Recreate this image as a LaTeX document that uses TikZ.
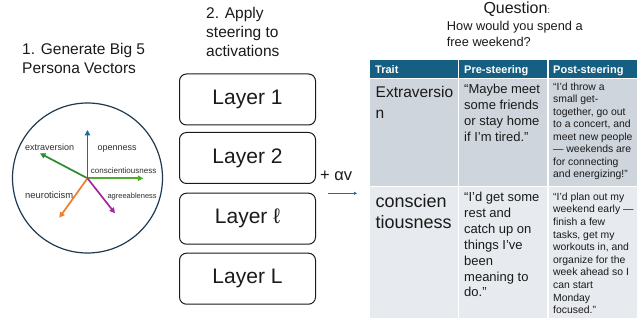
\documentclass[tikz,border=0pt]{standalone}
\usepackage{fontspec}
\setmainfont{Liberation Sans}
\usetikzlibrary{arrows.meta}
\definecolor{hdr}{HTML}{156082}
\definecolor{rowA}{HTML}{CFD5DC}
\definecolor{rowB}{HTML}{E7EAEE}
\definecolor{vblue}{HTML}{1F6B96}
\definecolor{vgreenD}{HTML}{2D8A2D}
\definecolor{vgreenL}{HTML}{4EAD2B}
\definecolor{vorange}{HTML}{F07D2C}
\definecolor{vpurple}{HTML}{9C2A9E}
\definecolor{circ}{HTML}{1F3A4F}
\definecolor{ink}{HTML}{1A1A1A}
\definecolor{lbl}{HTML}{2E2E2E}
\definecolor{steer}{HTML}{2B6A96}
\tikzset{
  fs/.style n args={2}{font=\fontsize{#1}{#2}\selectfont},
  txt/.style={inner sep=0pt, anchor=north west, align=left, text=ink},
  lab/.style={inner sep=0pt, anchor=base west, text=lbl},
  vec/.style={line width=1.7pt, -{Triangle[length=5.5pt,width=5.5pt]}},
  layerbox/.style={draw=ink, line width=1pt, rounded corners=7pt, minimum width=136pt, minimum height=51pt, inner sep=0pt, text=ink, font=\fontsize{21}{24}\selectfont},
  hdrtxt/.style={inner sep=0pt, anchor=base west, text=white, font=\fontsize{11}{13}\selectfont\bfseries},
}
\begin{document}
\begin{tikzpicture}[x=1pt,y=-1pt]
\useasboundingbox (0,0) rectangle (641,329);

% ---- Part 1
\node[txt, fs={15.5}{19.3}] (t1) at (22,40.5) {\strut 1. Generate Big 5\\Persona Vectors};
\node[draw=circ, line width=1.2pt, circle, minimum size=150pt, inner sep=0pt] (circle) at (87.5,178) {};
\coordinate (O) at (87.5,178.3);
\coordinate (tO) at (87.5,130);
\coordinate (tE) at (40,153.3);
\coordinate (tC) at (143.3,178.3);
\coordinate (tN) at (59.3,217.7);
\coordinate (tA) at (115,213.3);
\draw[vec, vgreenD] (O) -- (tE);
\draw[vec, vgreenL] (O) -- (tC);
\draw[vec, vorange] (O) -- (tN);
\draw[vec, vpurple] (O) -- (tA);
\draw[vec, vblue] (O) -- (tO);
\node[lab, font=\fontsize{9}{10}\selectfont] (lE) at (25,150) {extraversion};
\node[lab, font=\fontsize{9}{10}\selectfont] (lO) at (97.3,150) {openness};
\node[lab, font=\fontsize{8}{9}\selectfont] (lC) at (90.7,173.3) {conscientiousness};
\node[lab, font=\fontsize{9.4}{10}\selectfont] (lN) at (25,199) {neuroticism};
\node[lab, font=\fontsize{7.5}{9}\selectfont] (lA) at (107.3,199) {agreeableness};

% ---- Part 2
\node[txt, fs={15.5}{19.2}] (t2) at (206,4.9) {\strut 2. Apply\\steering to\\activations};
\node[layerbox] (L1) at (247.5,99.5) {Layer 1};
\node[layerbox] (L2) at (247.5,158) {Layer 2};
\node[layerbox] (L3) at (247.5,218.7) {Layer ℓ};
\node[layerbox] (L4) at (247.5,278.7) {Layer L};
\node[inner sep=0pt, anchor=base west, text=ink, font=\fontsize{16.5}{18}\selectfont] (av) at (320,180) {+ αv};
\coordinate (a0) at (328.3,193.3);
\coordinate (a1) at (357,193.3);
\draw[steer, line width=1pt, -{Triangle[length=3pt,width=3pt]}] (a0) -- (a1);

% ---- Part 3
\node[inner sep=0pt, anchor=base west, text=ink, font=\fontsize{16}{18}\selectfont] (q) at (483.3,13.3) {Question{\fontsize{9}{10}\selectfont:}};
\node[txt, fs={12.8}{16}] (qq) at (446.7,19.5) {\strut How would you spend a\\free weekend?};

\fill[hdr] (370,60) rectangle (636.7,78.5);
\fill[rowA] (370,78.5) rectangle (636.7,186.5);
\fill[rowB] (370,186.5) rectangle (636.7,318.3);
\draw[white, line width=1.6pt] (370,78.5) -- (636.7,78.5);
\draw[white, line width=1.6pt] (370,186.5) -- (636.7,186.5);
\draw[white, line width=1.6pt] (458.3,60) -- (458.3,318.3);
\draw[white, line width=1.6pt] (547.7,60) -- (547.7,318.3);

\node[hdrtxt] (h1) at (375,73.5) {Trait};
\node[hdrtxt] (h2) at (464,73.5) {Pre-steering};
\node[hdrtxt] (h3) at (553,73.5) {Post-steering};

\node[txt, fs={15.5}{20.6}] (r1a) at (375.5,83.3) {\strut Extraversio\\n};
\node[txt, fs={13}{15.9}] (r1b) at (464,82.2) {\strut “Maybe meet\\some friends\\or stay home\\if I’m tired.”};
\node[txt, fs={10.4}{12.5}] (r1c) at (553,81.25) {\strut “I’d throw a\\small get-\\together, go out\\to a concert, and\\meet new people\\— weekends are\\for connecting\\and energizing!”};

\node[txt, fs={18}{21}] (r2a) at (375.5,192.6) {\strut conscien\\tiousness};
\node[txt, fs={13}{15.85}] (r2b) at (464,190.6) {\strut “I’d get some\\rest and\\catch up on\\things I’ve\\been\\meaning to\\do.”};
\node[txt, fs={10.4}{12.6}] (r2c) at (553,191.2) {\strut “I’d plan out my\\weekend early —\\finish a few\\tasks, get my\\workouts in, and\\organize for the\\week ahead so I\\can start\\Monday\\focused.”};
\end{tikzpicture}
\end{document}
